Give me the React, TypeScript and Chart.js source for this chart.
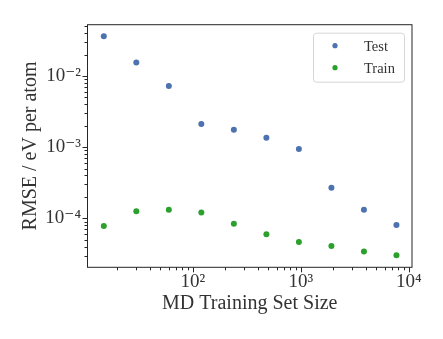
import { useEffect, useRef } from "react";
import { Chart, registerables } from "chart.js";

Chart.register(...registerables);

const trainingSetSizes = [15, 30, 60, 120, 240, 480, 960, 1920, 3840, 7680];
const testRmse = [0.0361, 0.0154, 0.00724, 0.00212, 0.00176, 0.00136, 0.00094, 0.000268, 0.000132, 0.0000805];
const trainRmse = [0.000078, 0.000126, 0.000132, 0.000121, 0.000084, 0.0000595, 0.0000465, 0.0000408, 0.0000343, 0.0000302];
const seriesLabels = ["Test", "Train"];
const seriesColors = ["#4C72B0", "#2CA02C"];
const xMajorTicks = [100, 1000, 10000];
const xTickLabels = ["10²", "10³", "10⁴"];
const yMajorTicks = [1e-4, 1e-3, 1e-2];
const yTickLabels = ["10⁻⁴", "10⁻³", "10⁻²"];
const xTitle = "MD Training Set Size";
const yTitle = "RMSE / eV per atom";

const FONT = "'Liberation Serif', 'DejaVu Serif', serif";
const TEXT = "#333333";

const framePlugin = {
  id: "frameAndTicks",
  afterDraw(chart: any) {
    const { ctx, chartArea } = chart;
    const { left, right, top, bottom } = chartArea;
    ctx.save();
    ctx.strokeStyle = "#262626";
    ctx.lineWidth = 1;
    ctx.strokeRect(left, top, right - left, bottom - top);
    const drawTicks = (scale: any, horizontal: boolean) => {
      const lo = Math.floor(Math.log10(scale.min));
      const hi = Math.ceil(Math.log10(scale.max));
      for (let d = lo; d <= hi; d++) {
        for (let m = 1; m <= 9; m++) {
          const v = m * Math.pow(10, d);
          if (v < scale.min || v > scale.max) continue;
          const p = Math.round(scale.getPixelForValue(v)) + 0.5;
          const len = m === 1 ? 5 : 3;
          ctx.beginPath();
          if (horizontal) {
            ctx.moveTo(p, bottom);
            ctx.lineTo(p, bottom + len);
          } else {
            ctx.moveTo(left, p);
            ctx.lineTo(left - len, p);
          }
          ctx.stroke();
        }
      }
    };
    drawTicks(chart.scales.x, true);
    drawTicks(chart.scales.y, false);

    // legend
    const bw = 91, bh = 49;
    const bx = right - 8 - bw;
    const by = top + 8;
    ctx.beginPath();
    ctx.roundRect(bx + 0.5, by + 0.5, bw, bh, 3);
    ctx.fillStyle = "rgba(255,255,255,0.8)";
    ctx.fill();
    ctx.strokeStyle = "#d6d6d6";
    ctx.stroke();
    ctx.font = `14.5px ${FONT}`;
    ctx.textBaseline = "middle";
    ctx.textAlign = "left";
    chart.data.datasets.forEach((ds: any, i: number) => {
      const cy = by + 13 + i * 22;
      ctx.beginPath();
      ctx.arc(bx + 22, cy, 2.6, 0, Math.PI * 2);
      ctx.fillStyle = ds.backgroundColor;
      ctx.fill();
      ctx.fillStyle = TEXT;
      ctx.fillText(ds.label, bx + 51, cy + 1);
    });
    ctx.restore();
  },
};

export default function App() {
  const ref = useRef<HTMLCanvasElement>(null);
  useEffect(() => {
    document.body.style.margin = "0";
    const canvas = ref.current!;
    const chart = new Chart(canvas, {
      type: "scatter",
      data: {
        datasets: [
          {
            label: seriesLabels[0],
            data: trainingSetSizes.map((x, i) => ({ x, y: testRmse[i] })),
            backgroundColor: seriesColors[0],
            borderWidth: 0,
            pointRadius: 3,
          },
          {
            label: seriesLabels[1],
            data: trainingSetSizes.map((x, i) => ({ x, y: trainRmse[i] })),
            backgroundColor: seriesColors[1],
            borderWidth: 0,
            pointRadius: 3,
          },
        ],
      },
      options: {
        responsive: false,
        animation: false,
        devicePixelRatio: 1,
        layout: { padding: { left: 0, top: 24.7, right: 31, bottom: 0 } },
        plugins: { legend: { display: false }, tooltip: { enabled: false } },
        scales: {
          x: {
            type: "logarithmic",
            position: "bottom",
            min: 10.6,
            max: 10700,
            grid: { display: false, drawTicks: true, tickLength: 2 },
            border: { display: false },
            afterBuildTicks: (s: any) => {
              s.ticks = xMajorTicks.map((v) => ({ value: v, major: true }));
            },
            afterFit: (s: any) => {
              s.height = 339 - 267.3;
            },
            ticks: {
              autoSkip: false,
              maxRotation: 0,
              padding: 1.3,
              color: TEXT,
              font: { family: FONT, size: 19 },
              callback: (_v: any, i: number) => xTickLabels[i],
            },
            title: {
              display: true,
              text: xTitle,
              color: TEXT,
              font: { family: FONT, size: 20 },
              padding: { top: 0, bottom: 23 },
            },
          },
          y: {
            type: "logarithmic",
            position: "left",
            min: 2.05e-5,
            max: 0.0525,
            grid: { display: false, drawTicks: true, tickLength: 5 },
            border: { display: false },
            afterBuildTicks: (s: any) => {
              s.ticks = yMajorTicks.map((v) => ({ value: v, major: true }));
            },
            afterFit: (s: any) => {
              s.width = 87.5;
            },
            ticks: {
              autoSkip: false,
              padding: 1.5,
              color: TEXT,
              font: { family: FONT, size: 19 },
              callback: (_v: any, i: number) => yTickLabels[i],
            },
            title: {
              display: true,
              text: yTitle,
              color: TEXT,
              font: { family: FONT, size: 20 },
              padding: { top: 19, bottom: 0 },
            },
          },
        },
      },
      plugins: [framePlugin],
    });
    return () => chart.destroy();
  }, []);
  return (
    <div style={{ width: 443, height: 339 }}>
      <canvas ref={ref} width={443} height={339} />
    </div>
  );
}
